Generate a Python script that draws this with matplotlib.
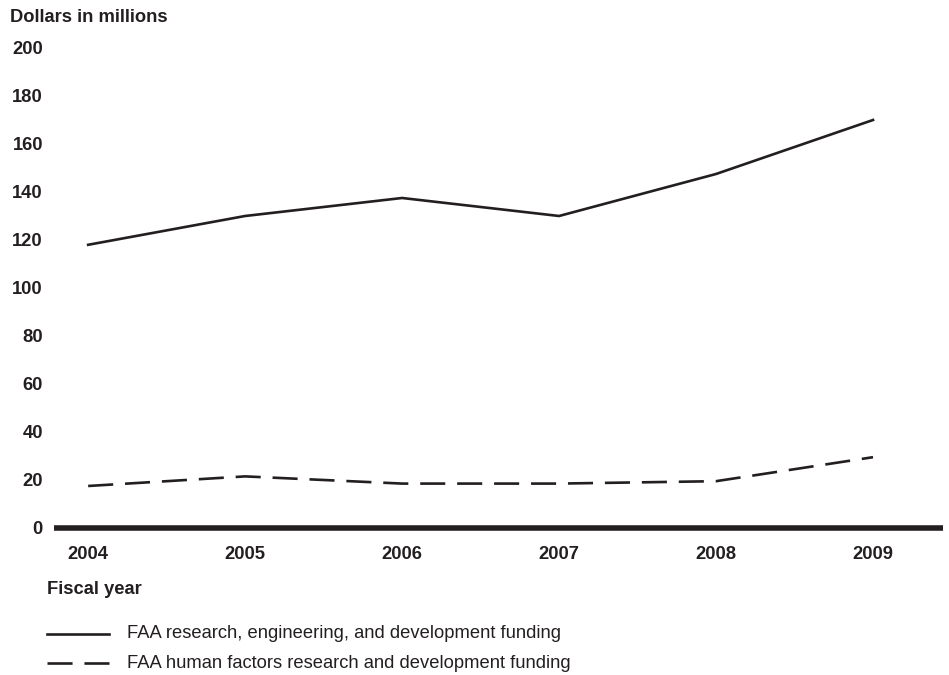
import matplotlib.pyplot as plt
from matplotlib.lines import Line2D

# fiscal years and funding (dollars in millions)
years = [2004, 2005, 2006, 2007, 2008, 2009]
red_funding = [118, 130, 137.5, 130, 147.5, 170]
human_factors = [17.5, 21.5, 18.5, 18.5, 19.5, 29.5]
y_ticks = [0, 20, 40, 60, 80, 100, 120, 140, 160, 180, 200]

ink = '#231f20'
dash = (9.5, 4.5)
plt.rcParams['font.family'] = ['Liberation Sans', 'DejaVu Sans']

fig = plt.figure(figsize=(9.49, 6.75), dpi=100)
ax = fig.add_axes([0.057, 0.2178, 0.9367, 0.7111])

ax.plot(years, red_funding, color=ink, lw=1.9)
ax.plot(years, human_factors, color=ink, lw=1.9, dashes=dash)

ax.set_xlim(2003.783, 2009.446)
ax.set_ylim(0, 200)
ax.set_yticks(y_ticks)
ax.set_xticks(years)
ax.set_yticklabels([str(v) for v in y_ticks], fontsize=13.2, fontweight='bold', color=ink)
ax.set_xticklabels([str(v) for v in years], fontsize=13.2, fontweight='bold', color=ink)
ax.tick_params(axis='both', length=0)
ax.tick_params(axis='y', pad=8)
ax.tick_params(axis='x', pad=13)

for s in ['top', 'right', 'left']:
    ax.spines[s].set_visible(False)
ax.spines['bottom'].set_linewidth(4)
ax.spines['bottom'].set_color(ink)
ax.spines['bottom'].set_capstyle('butt')

fig.text(10 / 949, 1 - 17 / 675, 'Dollars in millions', fontsize=13.2, fontweight='bold',
         color=ink, va='center', ha='left')
fig.text(47 / 949, 1 - 589 / 675, 'Fiscal year', fontsize=13.2, fontweight='bold',
         color=ink, va='center', ha='left')

# legend drawn by hand below the axes
for ypix, kw, label in [(634, {}, 'FAA research, engineering, and development funding'),
                        (663, {'dashes': dash}, 'FAA human factors research and development funding')]:
    yf = 1 - ypix / 675
    fig.add_artist(Line2D([47 / 949, 109 / 949], [yf, yf], color=ink, lw=1.9, **kw))
    fig.text(127 / 949, yf, label, fontsize=13.2, color=ink, va='center', ha='left')

fig.savefig('out.png', dpi=100)
